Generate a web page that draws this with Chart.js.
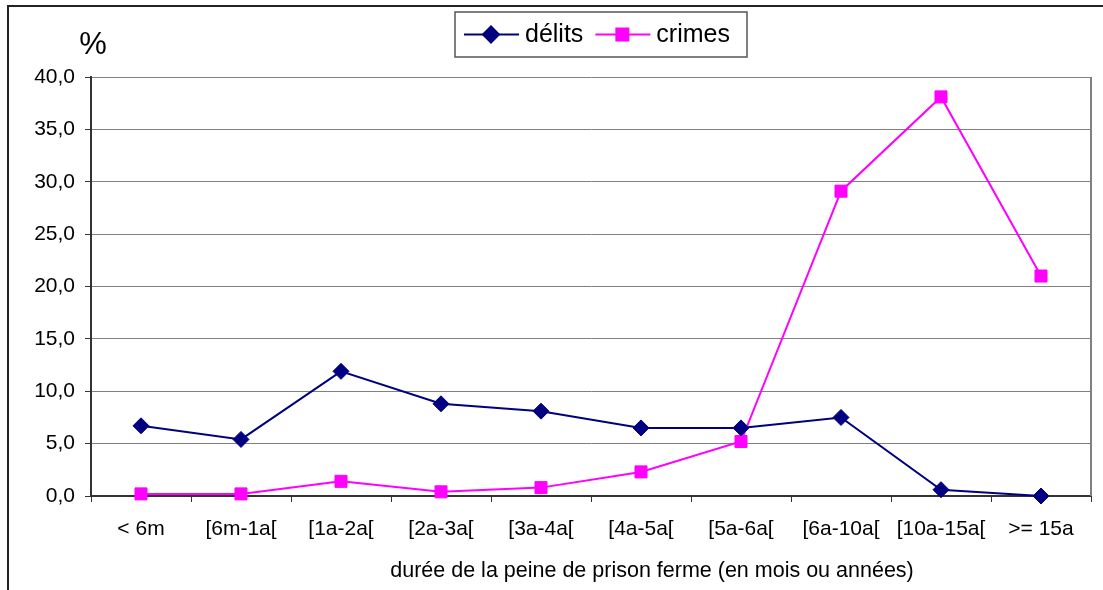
<!doctype html>
<html lang="fr">
<head>
  <meta charset="utf-8">
  <title>Durée de la peine de prison ferme</title>
  <script src="https://cdn.jsdelivr.net/npm/chart.js"></script>
  <style>
    html, body { margin: 0; padding: 0; background: #fff; }
    #wrap { width: 1103px; height: 590px; }
  </style>
</head>
<body>
  <div id="wrap"><canvas id="chart_peines" width="1103" height="590"></canvas></div>

  <script type="text/javascript">

    // categories (x axis)
    const labels = ['< 6m', '[6m-1a[', '[1a-2a[', '[2a-3a[', '[3a-4a[', '[4a-5a[', '[5a-6a[', '[6a-10a[', '[10a-15a[', '>= 15a'];

    // series, in %
    const delits = [6.7, 5.4, 11.9, 8.8, 8.1, 6.5, 6.5, 7.5, 0.6, 0.0];
    const crimes = [0.2, 0.2, 1.4, 0.4, 0.8, 2.3, 5.2, 29.1, 38.1, 21.0];

    const series_names = ['délits', 'crimes'];
    const x_title = 'durée de la peine de prison ferme (en mois ou années)';
    const y_unit = '%';

    const FONT = "'Liberation Sans', Arial, sans-serif";

    // frame around the whole chart (cut at right/bottom like the original)
    const frame_plugin = {
      id: 'frame',
      beforeDraw(chart) {
        const ctx = chart.ctx;
        ctx.save();
        ctx.fillStyle = '#fff';
        ctx.fillRect(0, 0, chart.width, chart.height);
        ctx.strokeStyle = '#222';
        ctx.lineWidth = 2;
        ctx.beginPath();
        ctx.moveTo(8, chart.height);
        ctx.lineTo(8, 6);
        ctx.lineTo(chart.width, 6);
        ctx.stroke();
        ctx.restore();
      },
      afterDraw(chart) {
        const ctx = chart.ctx;
        const a = chart.chartArea;
        ctx.save();
        // right edge of plot area
        ctx.strokeStyle = '#808080';
        ctx.lineWidth = 2;
        ctx.beginPath();
        ctx.moveTo(a.right, a.top);
        ctx.lineTo(a.right, a.bottom);
        ctx.stroke();
        // unit above the y axis
        ctx.fillStyle = '#000';
        ctx.font = '31px ' + FONT;
        ctx.textAlign = 'center';
        ctx.textBaseline = 'middle';
        ctx.fillText(y_unit, 93, 45);
        // x axis title
        ctx.font = '21.5px ' + FONT;
        ctx.fillText(x_title, 652, 571);
        ctx.restore();
      }
    };

    // boxed legend on top
    const legend_plugin = {
      id: 'boxlegend',
      afterDraw(chart) {
        const ctx = chart.ctx;
        const box = { x: 455, y: 12, w: 292, h: 45 };
        const cy = box.y + box.h / 2;
        ctx.save();
        ctx.strokeStyle = '#555';
        ctx.lineWidth = 1.5;
        ctx.strokeRect(box.x, box.y, box.w, box.h);
        ctx.font = '25px ' + FONT;
        ctx.textBaseline = 'middle';
        ctx.textAlign = 'left';
        let x = box.x + 9;
        chart.data.datasets.forEach((ds) => {
          ctx.strokeStyle = ds.borderColor;
          ctx.lineWidth = 2;
          ctx.beginPath();
          ctx.moveTo(x, cy);
          ctx.lineTo(x + 55, cy);
          ctx.stroke();
          ctx.fillStyle = ds.backgroundColor;
          Chart.helpers.drawPoint(ctx, { pointStyle: ds.pointStyle, radius: ds.pointRadius, borderWidth: 1 }, x + 27, cy);
          ctx.fill();
          ctx.fillStyle = '#000';
          ctx.fillText(ds.label, x + 61, cy + 1);
          x += 61 + ctx.measureText(ds.label).width + 12;
        });
        ctx.restore();
      }
    };

    new Chart(document.getElementById('chart_peines'), {
      type: 'line',
      data: {
        labels: labels,
        datasets: [
          { label: series_names[0], data: delits, borderColor: '#000080', backgroundColor: '#000080', borderWidth: 2, pointStyle: 'rectRot', pointRadius: 8, pointBorderWidth: 1, tension: 0, clip: false },
          { label: series_names[1], data: crimes, borderColor: '#FF00FF', backgroundColor: '#FF00FF', borderWidth: 2, pointStyle: 'rect', pointRadius: 8.5, pointBorderWidth: 1, tension: 0, clip: false }
        ]
      },
      options: {
        responsive: false,
        animation: false,
        layout: { padding: { top: 77, right: 12, left: 0, bottom: 0 } },
        plugins: { legend: { display: false }, tooltip: { enabled: false } },
        scales: {
          x: {
            offset: true,
            grid: { offset: true, drawOnChartArea: false, drawTicks: true, tickLength: 6, color: '#333' },
            border: { color: '#333', width: 2 },
            ticks: { color: '#000', font: { family: FONT, size: 21 }, padding: 15, maxRotation: 0, autoSkip: false },
            afterFit: (scale) => { scale.height = 94; }
          },
          y: {
            min: 0, max: 40,
            grid: { color: '#808080', tickColor: '#333', tickLength: 6, lineWidth: 1 },
            border: { color: '#333', width: 2 },
            ticks: { stepSize: 5, color: '#000', font: { family: FONT, size: 21 }, padding: 10,
              callback: (v) => Number(v).toFixed(1).replace('.', ',') },
            afterFit: (scale) => { scale.width = 91; }
          }
        }
      },
      plugins: [frame_plugin, legend_plugin]
    });

  </script>
</body>
</html>
